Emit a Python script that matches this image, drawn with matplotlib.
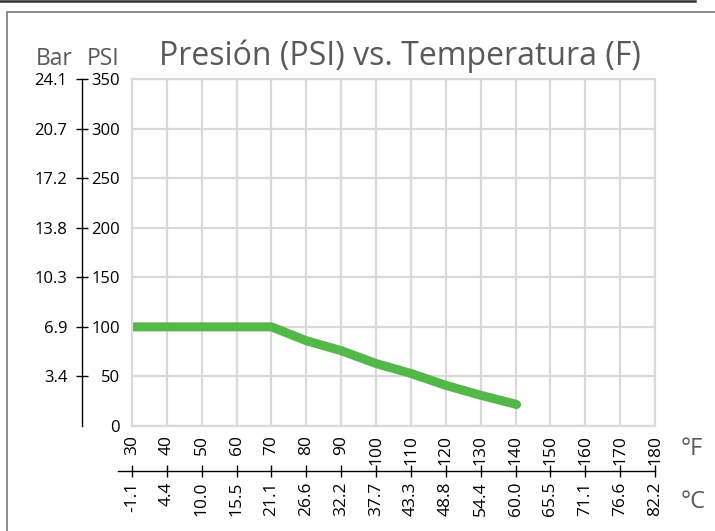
import matplotlib
matplotlib.use("Agg")
import matplotlib.pyplot as plt
from matplotlib.lines import Line2D

plt.rcParams['font.family'] = ['Open Sans', 'DejaVu Sans']

temp_f = [30, 40, 50, 60, 70, 80, 90, 100, 110, 120, 130, 140]
psi = [100, 100, 100, 100, 100, 86, 76, 63, 53, 41, 31, 22]

f_ticks = [30, 40, 50, 60, 70, 80, 90, 100, 110, 120, 130, 140, 150, 160, 170, 180]
c_labels = ['-1.1', '4.4', '10.0', '15.5', '21.1', '26.6', '32.2', '37.7',
            '43.3', '48.8', '54.4', '60.0', '65.5', '71.1', '76.6', '82.2']
psi_ticks = [0, 50, 100, 150, 200, 250, 300, 350]
bar_labels = ['3.4', '6.9', '10.3', '13.8', '17.2', '20.7', '24.1']

W, H = 715, 531
fig = plt.figure(figsize=(W / 100, H / 100), dpi=100)

def fx(px):
    return px / W

def fy(py):
    return 1 - py / H

grey_txt = '#595959'
grid_col = '#d9d9d9'
green = '#52b848'

# main plot area
x0, x1, y0, y1 = 132, 655, 426, 79
ax = fig.add_axes([fx(x0), fy(y0), fx(x1 - x0), (y0 - y1) / H])
ax.set_xlim(30, 180)
ax.set_ylim(0, 350)
ax.set_xticks(f_ticks)
ax.set_xticklabels([str(t) for t in f_ticks], rotation=90, fontsize=12.5)
ax.set_yticks(psi_ticks)
ax.set_yticklabels([str(t) for t in psi_ticks], fontsize=12)
ax.tick_params(length=0)
ax.tick_params(axis='x', pad=6.5)
ax.tick_params(axis='y', pad=8.5)
ax.grid(True, color=grid_col, linewidth=1.6)
for s in ax.spines.values():
    s.set_color(grid_col)
    s.set_linewidth(1.6)
ax.set_axisbelow(True)

ax.plot(temp_f, psi, color=green, linewidth=6.5,
        solid_capstyle='butt', solid_joinstyle='round', clip_on=False)
# rounded end of the curve
ax.plot(temp_f[-1:], psi[-1:], 'o', color=green, markersize=6.5,
        markeredgewidth=0, clip_on=False)

# Bar axis
bar_ax = ax.secondary_yaxis((82 - x0) / (x1 - x0))
bar_ax.set_yticks(psi_ticks[1:])
bar_ax.set_yticklabels(bar_labels, fontsize=12)
bar_ax.tick_params(direction='inout', length=8, width=1, pad=6.5)
bar_ax.spines['left'].set_linewidth(1)
bar_ax.spines['left'].set_color('black')

# Celsius axis
cx0 = 118
c_ax = fig.add_axes([fx(cx0), fy(471), fx(x1 - cx0), 0.0001])
c_ax.set_xlim(30 - (x0 - cx0) / 3.4867, 180)
c_ax.set_ylim(0, 1)
for name in ['top', 'left', 'right']:
    c_ax.spines[name].set_visible(False)
c_ax.spines['bottom'].set_linewidth(1)
c_ax.set_yticks([])
c_ax.set_xticks(f_ticks)
c_ax.set_xticklabels(c_labels, rotation=90, fontsize=12.5)
c_ax.tick_params(axis='x', direction='inout', length=9, width=1, pad=3)
c_ax.patch.set_visible(False)

# texts
fig.text(fx(159), fy(65), 'Presión (PSI) vs. Temperatura (F)', fontsize=23,
         color=grey_txt, ha='left', va='baseline')
fig.text(fx(36), fy(65), 'Bar', fontsize=16.5, color=grey_txt, ha='left', va='baseline')
fig.text(fx(119), fy(65), 'PSI', fontsize=16.5, color=grey_txt, ha='right', va='baseline')
fig.text(fx(681), fy(455), '°F', fontsize=17, color=grey_txt, ha='left', va='baseline')
fig.text(fx(681), fy(508), '°C', fontsize=17, color=grey_txt, ha='left', va='baseline')

# frame lines
fig.add_artist(Line2D([0, fx(695)], [fy(1), fy(1)], color='#333333', linewidth=1.8))
fig.add_artist(Line2D([fx(7), 1], [fy(12), fy(12)], color='#8c8c8c', linewidth=1.4))
fig.add_artist(Line2D([fx(7), fx(7)], [fy(12), 0], color='#8c8c8c', linewidth=1.4))

fig.savefig('out.png', dpi=100)
